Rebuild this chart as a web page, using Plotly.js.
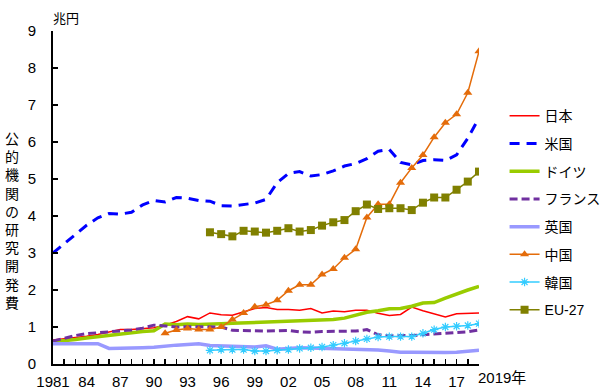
<!DOCTYPE html>
<html>
<head>
<meta charset="utf-8">
<script src="https://cdn.plot.ly/plotly-3.0.1.min.js"></script>
<style>html,body{margin:0;padding:0;background:#fff;}#chart{width:600px;height:390px;}</style>
</head>
<body>
<div id="chart"></div>
<script>
// ---- data (兆円) ----
var yearsAll = [1981,1982,1983,1984,1985,1986,1987,1988,1989,1990,1991,1992,1993,1994,1995,1996,1997,1998,1999,2000,2001,2002,2003,2004,2005,2006,2007,2008,2009,2010,2011,2012,2013,2014,2015,2016,2017,2018,2019];
var yearsChina = [1991,1992,1993,1994,1995,1996,1997,1998,1999,2000,2001,2002,2003,2004,2005,2006,2007,2008,2009,2010,2011,2012,2013,2014,2015,2016,2017,2018,2019];
var years95 = [1995,1996,1997,1998,1999,2000,2001,2002,2003,2004,2005,2006,2007,2008,2009,2010,2011,2012,2013,2014,2015,2016,2017,2018,2019];

var japan = [0.65,0.68,0.72,0.75,0.80,0.86,0.93,0.93,0.95,0.98,1.05,1.15,1.28,1.22,1.38,1.33,1.32,1.40,1.50,1.53,1.47,1.47,1.45,1.50,1.38,1.43,1.41,1.45,1.45,1.37,1.31,1.34,1.54,1.44,1.36,1.27,1.36,1.38,1.38];
var usa = [3.00,3.25,3.50,3.75,3.95,4.07,4.05,4.10,4.30,4.42,4.38,4.50,4.48,4.42,4.40,4.28,4.27,4.30,4.35,4.45,4.90,5.15,5.20,5.08,5.12,5.22,5.35,5.42,5.55,5.75,5.80,5.45,5.38,5.50,5.52,5.50,5.65,6.10,6.65];
var germany = [0.60,0.62,0.66,0.70,0.74,0.78,0.82,0.85,0.88,0.90,1.08,1.06,1.08,1.07,1.09,1.09,1.10,1.11,1.12,1.13,1.14,1.16,1.15,1.17,1.18,1.20,1.24,1.33,1.40,1.44,1.49,1.50,1.56,1.65,1.66,1.78,1.90,2.00,2.10];
var france = [0.62,0.70,0.77,0.82,0.84,0.86,0.89,0.92,0.97,1.05,1.03,1.00,1.01,1.01,1.02,1.00,0.91,0.90,0.88,0.89,0.90,0.91,0.87,0.86,0.88,0.88,0.88,0.89,0.93,0.79,0.76,0.76,0.77,0.79,0.81,0.83,0.84,0.87,0.92];
var uk = [0.55,0.55,0.55,0.55,0.55,0.42,0.42,0.42,0.44,0.45,0.49,0.51,0.53,0.55,0.50,0.49,0.48,0.48,0.46,0.49,0.40,0.42,0.44,0.43,0.42,0.41,0.40,0.41,0.40,0.38,0.35,0.32,0.32,0.31,0.30,0.31,0.32,0.35,0.37];
var china = [0.83,0.92,0.96,0.93,0.93,1.00,1.20,1.38,1.55,1.60,1.72,1.98,2.14,2.14,2.42,2.57,2.87,3.10,3.96,4.32,4.32,4.90,5.30,5.65,6.13,6.52,6.75,7.33,8.45];
var korea = [0.37,0.39,0.39,0.39,0.35,0.35,0.37,0.39,0.42,0.44,0.46,0.51,0.56,0.62,0.68,0.73,0.74,0.74,0.74,0.83,0.93,1.00,1.02,1.04,1.09];
var eu27 = [3.56,3.51,3.45,3.60,3.58,3.55,3.60,3.67,3.58,3.62,3.74,3.83,3.89,4.13,4.31,4.19,4.21,4.21,4.16,4.36,4.50,4.50,4.71,4.93,5.20];

var names = ['日本','米国','ドイツ','フランス','英国','中国','韓国','EU-27'];
var xTickLabels = ['1981','','','84','','','87','','','90','','','93','','','96','','','99','','','02','','','05','','','08','','','11','','','14','','','17','',''];
var yTickVals = [0,1,2,3,4,5,6,7,8,9];

var FONT = 'Liberation Sans, Arial, "Noto Sans CJK JP", sans-serif';

function tr(name, x, y, line, mode, marker, i) {
  var t = {type:'scatter', mode: mode || 'lines', name: name, x: x, y: y, line: line,
           legendgroup: 'g' + i, hoverinfo: 'skip'};
  if (marker) t.marker = marker;
  return t;
}

var data = [
  tr(names[0], yearsAll, japan, {color:'#ff0000', width:1.5}, 'lines', null, 0),
  tr(names[1], yearsAll, usa, {color:'#0000ff', width:3, dash:'10px,7px'}, 'lines', null, 1),
  tr(names[2], yearsAll, germany, {color:'#99cc00', width:3.5}, 'lines', null, 2),
  tr(names[3], yearsAll, france, {color:'#7030a0', width:3, dash:'8px,4px'}, 'lines', null, 3),
  tr(names[4], yearsAll, uk, {color:'#9999ff', width:3.5}, 'lines', null, 4),
  tr(names[5], yearsChina, china, {color:'#e46c0a', width:1.5}, 'lines+markers', {symbol:'triangle-up', size:8, color:'#e46c0a'}, 5),
  tr(names[6], years95, korea, {color:'#33ccff', width:1.5}, 'lines+markers', {symbol:'asterisk-open', size:7, color:'#33ccff', line:{color:'#33ccff', width:1.2}}, 6),
  tr(names[7], years95, eu27, {color:'#808000', width:1.5}, 'lines+markers', {symbol:'square', size:8, color:'#808000'}, 7)
];

var ytitle = '公的機関の研究開発費'.split('').join('<br>');

var layout = {
  width: 600, height: 390,
  margin: {l:53, r:121, t:31, b:26, pad:0, autoexpand:false},
  paper_bgcolor:'#ffffff', plot_bgcolor:'#ffffff',
  font: {family: FONT, size: 14, color:'#000'},
  showlegend: true,
  legend: {x: 1.06, xanchor:'left', y: 0.792, yanchor:'top', tracegroupgap: 6.5,
           font:{family: FONT, size:14, color:'#000'}, bgcolor:'rgba(0,0,0,0)'},
  xaxis: {range:[1981,2019], tickvals: yearsAll, ticktext: xTickLabels,
          ticks:'inside', ticklen:5, tickwidth:1.5, tickcolor:'#000',
          showline:true, linecolor:'#000', linewidth:2, showgrid:false, zeroline:false,
          tickfont:{family: FONT, size:15, color:'#000'}, ticklabelstandoff: 3},
  yaxis: {range:[0,9], tickvals: yTickVals, ticks:'inside', ticklen:5, tickwidth:1.5, tickcolor:'#000',
          showline:true, linecolor:'#000', linewidth:2, showgrid:false, zeroline:false,
          tickfont:{family: FONT, size:15, color:'#000'}, ticklabelstandoff: 12},
  annotations: [
    {text:'兆円', xref:'paper', yref:'paper', x:0.0305, y:1.04, xanchor:'center', yanchor:'middle',
     showarrow:false, font:{family:'"Noto Sans CJK JP", sans-serif', size:13, color:'#000'}},
    {text: ytitle, xref:'paper', yref:'paper', x:0, xshift:-41.5, y:0.433, xanchor:'center', yanchor:'middle',
     showarrow:false, font:{family:'"Noto Sans CJK JP", sans-serif', size:14, color:'#000'}},
    {text:'2019年', xref:'x', yref:'paper', x:2019, xshift:-3, y:0, yshift:-13, xanchor:'left', yanchor:'middle',
     showarrow:false, font:{family: FONT, size:15, color:'#000'}}
  ]
};

Plotly.newPlot('chart', data, layout, {staticPlot:true, displayModeBar:false});
</script>
</body>
</html>
